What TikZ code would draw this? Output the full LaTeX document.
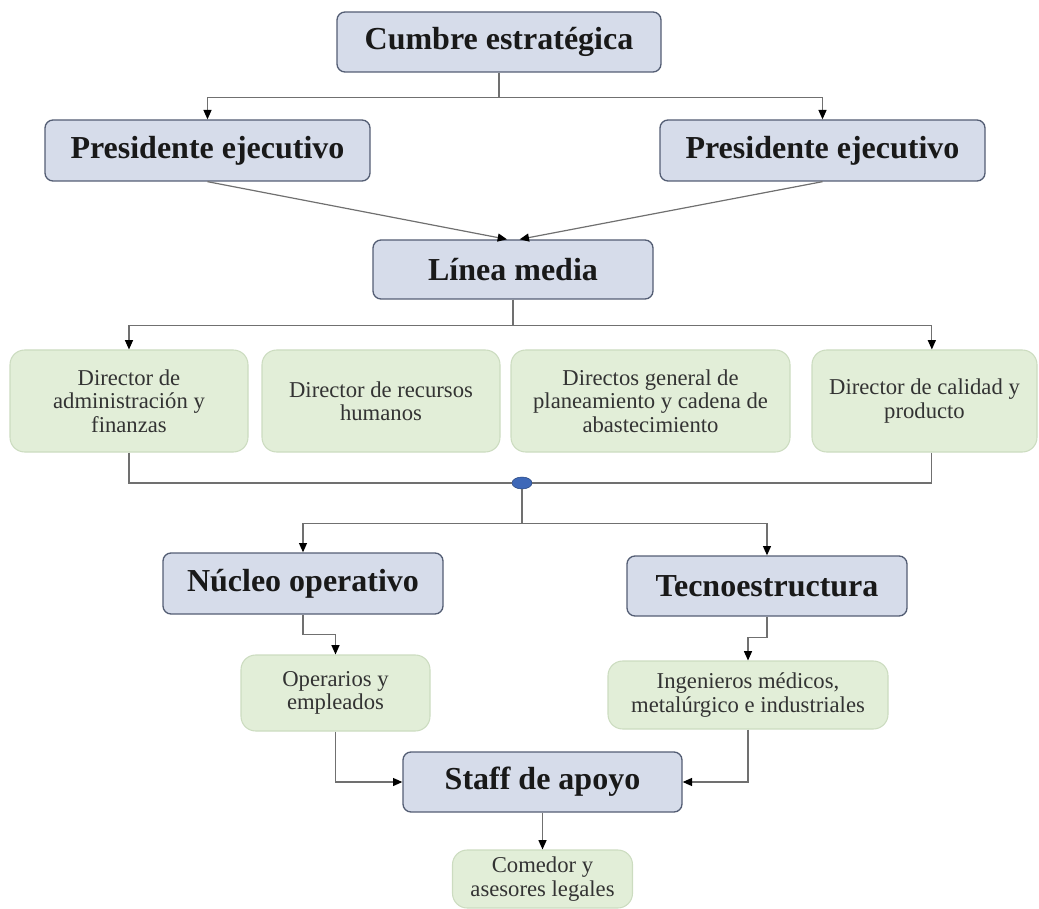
\documentclass[tikz,border=0pt]{standalone}
\usepackage{fontspec}
\setmainfont{Liberation Serif}
\usepackage{xcolor}
\usetikzlibrary{arrows.meta}
\usetikzlibrary{shapes.geometric}
\definecolor{bfill}{RGB}{214,220,234}
\definecolor{bline}{RGB}{84,94,116}
\definecolor{gfill}{RGB}{226,238,216}
\definecolor{gline}{RGB}{204,220,192}
\definecolor{cline}{RGB}{112,112,112}
\definecolor{dotfill}{RGB}{62,104,184}
\begin{document}
\begin{tikzpicture}[x=0.75pt,y=-0.75pt,
  bbox/.style={draw=bline,fill=bfill,line width=1pt,rounded corners=6pt,inner sep=0pt,
    font=\bfseries\fontsize{24}{28}\selectfont,text=black!90},
  gbox/.style={draw=gline,fill=gfill,line width=0.8pt,rounded corners=11pt,inner sep=0pt,align=center,
    font=\fontsize{17}{17.5}\selectfont,text=black!80},
  conn/.style={draw=cline,line width=0.9pt}]
\def\l{7pt}
\def\w{6pt}
\useasboundingbox (0,0) rectangle (1039,909);
\node [bbox, minimum width=243pt, minimum height=45pt, name=cumbre]   at (499,42) {Cumbre estratégica};
\node [bbox, minimum width=243.75pt, minimum height=45.75pt, name=pres1] at (207.5,150.5) {Presidente ejecutivo};
\node [bbox, minimum width=243.75pt, minimum height=45.75pt, name=pres2] at (822.5,150.5) {Presidente ejecutivo};
\node [bbox, minimum width=210pt, minimum height=44.25pt, name=linea]  at (513,269.5) {Línea media};
\node [gbox, minimum width=178.5pt, minimum height=76.5pt, name=g1]   at (129,401) {Director de\\administración y\\finanzas};
\node [gbox, minimum width=178.5pt, minimum height=76.5pt, name=g2]   at (381,401) {Director de recursos\\humanos};
\node [gbox, minimum width=209.25pt, minimum height=76.5pt, name=g3]  at (650.5,401) {Directos general de\\planeamiento y cadena de\\abastecimiento};
\node [gbox, minimum width=168.75pt, minimum height=76.5pt, name=g4]  at (924.5,401) {Director de calidad y\\producto};
\node [draw=dotfill!70!black, fill=dotfill, ellipse, minimum width=15pt, minimum height=9pt, inner sep=0pt, name=dot] at (522,483) {};
\node [bbox, minimum width=210pt, minimum height=45.75pt, name=nucleo] at (303,583.5) {Núcleo operativo};
\node [bbox, minimum width=210pt, minimum height=45pt, name=tecno]     at (767,586) {Tecnoestructura};
\node [gbox, minimum width=141.75pt, minimum height=57pt, name=oper]   at (335.5,693) {Operarios y\\empleados};
\node [gbox, minimum width=210pt, minimum height=51pt, name=inge]      at (748,695) {Ingenieros médicos,\\metalúrgico e industriales};
\node [bbox, minimum width=209.25pt, minimum height=45pt, name=staff]  at (542.5,782) {Staff de apoyo};
\node [gbox, minimum width=135pt, minimum height=43.5pt, name=comedor] at (542.5,879) {Comedor y\\asesores legales};
\draw [conn,-{Triangle[length=\l, width=\w, black]}](cumbre.south) -- ++(0,25) -| (pres1.north);
\draw [conn,-{Triangle[length=\l, width=\w, black]}](cumbre.south) -- ++(0,25) -| (pres2.north);
\draw [conn,-{Triangle[length=\l, width=\w, black]}](pres1.south) -- ([xshift=-4.5pt]linea.north);
\draw [conn,-{Triangle[length=\l, width=\w, black]}](pres2.south) -- ([xshift=5pt]linea.north);
\draw [conn,-{Triangle[length=\l, width=\w, black]}](linea.south) -- ++(0,26) -| (g1.north);
\draw [conn,-{Triangle[length=\l, width=\w, black]}](linea.south) -- ++(0,26) -| ([xshift=5.5pt]g4.north);
\draw [conn](g1.south) |- (dot.west);
\draw [conn]([xshift=5.5pt]g4.south) |- (dot.east);
\draw [conn,-{Triangle[length=\l, width=\w, black]}](dot.south) -- ++(0,34) -| (nucleo.north);
\draw [conn,-{Triangle[length=\l, width=\w, black]}](dot.south) -- ++(0,34) -| (tecno.north);
\draw [conn,-{Triangle[length=\l, width=\w, black]}](nucleo.south) -- ++(0,20) -| (oper.north);
\draw [conn,-{Triangle[length=\l, width=\w, black]}](tecno.south) -- ++(0,21) -| (inge.north);
\draw [conn,-{Triangle[length=\l, width=\w, black]}](oper.south) |- (staff.west);
\draw [conn,-{Triangle[length=\l, width=\w, black]}](inge.south) |- (staff.east);
\draw [conn,-{Triangle[length=\l, width=\w, black]}](staff.south) -- (comedor.north);
\end{tikzpicture}
\end{document}
